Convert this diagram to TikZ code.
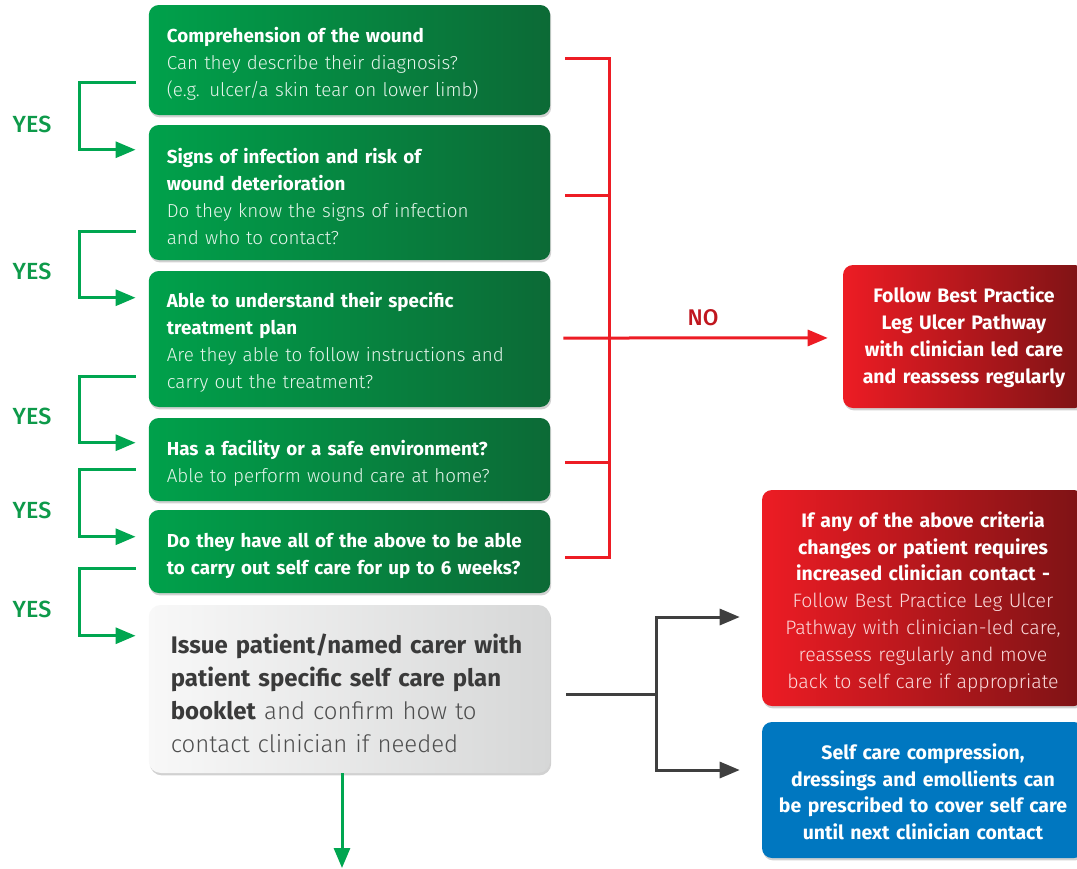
\documentclass[tikz,border=0pt]{standalone}
\usepackage{fontspec}
\setmainfont{Fira Sans}
\newfontfamily\lightfont{Fira Sans Light}
\newfontfamily\medfont{Fira Sans Medium}
\usetikzlibrary{shadows,arrows.meta}
\definecolor{gL}{HTML}{00A14B}
\definecolor{gD}{HTML}{0C6A36}
\definecolor{gLine}{HTML}{00A650}
\definecolor{yesc}{HTML}{0E9A4A}
\definecolor{rL}{HTML}{ED1C24}
\definecolor{rD}{HTML}{7D1315}
\definecolor{rLine}{HTML}{ED1C24}
\definecolor{noc}{HTML}{C0161E}
\definecolor{blu}{HTML}{0077C0}
\definecolor{gryL}{HTML}{F8F8F8}
\definecolor{gryD}{HTML}{D6D7D7}
\definecolor{darktxt}{HTML}{3A3A3A}
\definecolor{conn}{HTML}{3F3F3F}
\definecolor{pinktxt}{HTML}{FADADB}
\definecolor{paletxt}{HTML}{E6F5EB}
\tikzset{
  shad/.style={drop shadow={shadow xshift=0.8pt,shadow yshift=-1.8pt,opacity=0.18,fill=black}},
  push/.style={execute at begin node={\rule{0pt}{#1}}},
  gbox/.style={shad,rounded corners=7.5pt,left color=gL,right color=gD,text=white,align=left,
    text width=274pt,inner xsep=13.5pt,inner ysep=0pt,font=\fontsize{14.1}{20.25}\selectfont,
    push=17pt},
  greybox/.style={shad,rounded corners=9pt,left color=gryL,right color=gryD,text=darktxt,align=left,
    text width=268pt,inner xsep=16.5pt,inner ysep=0pt,font=\fontsize{18}{24.75}\selectfont,
    push=21.5pt},
  rbox/.style={shad,rounded corners=7.5pt,left color=rL,right color=rD,text=white,align=center,
    inner sep=0pt,font=\fontsize{14.6}{20.1}\selectfont},
  bbox/.style={shad,rounded corners=7.5pt,fill=blu,text=white,align=center,
    inner sep=0pt,font=\fontsize{14.6}{20.1}\selectfont},
  gline/.style={draw=gLine,line width=2.25pt,-{Triangle[length=15pt,width=12pt]}},
  rline/.style={draw=rLine,line width=2.25pt},
  cline/.style={draw=conn,line width=2.25pt},
  yes/.style={text=yesc,font=\medfont\fontsize{17.5}{20}\selectfont},
  tip/.style={-{Triangle[length=15pt,width=12pt]}}
}
\begin{document}
\begin{tikzpicture}[x=0.75pt,y=-0.75pt]
\useasboundingbox (0,0) rectangle (1077,868);
\fill[white] (0,0) rectangle (1077,868);
\clip (0,0) rectangle (1077,868);

% green question boxes
\node[gbox,minimum height=82.5pt] (b1) at (349.5,60)
  {\textbf{Comprehension of the wound}\\\lightfont\color{paletxt}Can they describe their diagnosis?\\(e.g. ulcer/a skin tear on lower limb)};
\node[gbox,minimum height=101.25pt] (b2) at (349.5,192.5)
  {\textbf{Signs of infection and risk of}\\\textbf{wound deterioration}\\\lightfont\color{paletxt}Do they know the signs of infection\\and who to contact?};
\node[gbox,minimum height=102pt] (b3) at (349.5,339)
  {\textbf{Able to understand their specific}\\\textbf{treatment plan}\\\lightfont\color{paletxt}Are they able to follow instructions and\\carry out the treatment?};
\node[gbox,minimum height=62.25pt] (b4) at (349.5,459.5)
  {\textbf{Has a facility or a safe environment?}\\\lightfont\color{paletxt}Able to perform wound care at home?};
\node[gbox,minimum height=62.25pt] (b5) at (349.5,551.5)
  {\textbf{Do they have all of the above to be able}\\\textbf{to carry out self care for up to 6 weeks?}};
\node[greybox,minimum height=126pt] (b6) at (349.5,689)
  {\textbf{Issue patient/named carer with}\\\textbf{patient specific self care plan}\\\textbf{booklet}\ {\lightfont\color{darktxt!90!white}and confirm how to}\\{\lightfont\color{darktxt!90!white}contact clinician if needed}};

% right boxes
\node[rbox,text width=170pt,push=13pt,minimum width=181.5pt,minimum height=107.25pt] (r1) at (964,336.5)
  {\textbf{Follow Best Practice}\\\textbf{Leg Ulcer Pathway}\\\textbf{with clinician led care}\\\textbf{and reassess regularly}};
\node[rbox,text width=230pt,push=17.5pt,minimum width=241.5pt,minimum height=162pt] (r2) at (923,598)
  {\textbf{If any of the above criteria}\\\textbf{changes or patient requires}\\\textbf{increased clinician contact -}\\
   {\lightfont\color{pinktxt}Follow Best Practice Leg Ulcer}\\{\lightfont\color{pinktxt}Pathway with clinician-led care,}\\
   {\lightfont\color{pinktxt}reassess regularly and move}\\{\lightfont\color{pinktxt}back to self care if appropriate}};
\node[bbox,text width=230pt,push=14.5pt,minimum width=241.5pt,minimum height=102pt] (bl) at (923,790)
  {\textbf{Self care compression,}\\\textbf{dressings and emollients can}\\\textbf{be prescribed to cover self care}\\\textbf{until next clinician contact}};

% YES labels
\node[yes] (y1) at (32,124) {YES};
\node[yes] (y2) at (32,271) {YES};
\node[yes] (y3) at (32,416) {YES};
\node[yes] (y4) at (32,510) {YES};
\node[yes] (y5) at (32,609) {YES};

% YES brackets
\coordinate (ybus) at (79,0);
\coordinate (s1) at ([xshift=-9.75pt,yshift=24.75pt]b1.south west);
\coordinate (e1) at ([xshift=-9.75pt,yshift=-18.75pt]b2.north west);
\coordinate (s2) at ([xshift=-9.75pt,yshift=21.75pt]b2.south west);
\coordinate (e2) at ([xshift=-9.75pt,yshift=-20.25pt]b3.north west);
\coordinate (s3) at ([xshift=-9.75pt,yshift=23.25pt]b3.south west);
\coordinate (e3) at ([xshift=-9.75pt,yshift=-18.75pt]b4.north west);
\coordinate (s4) at ([xshift=-9.75pt,yshift=24pt]b4.south west);
\coordinate (e4) at ([xshift=-9.75pt,yshift=-20.25pt]b5.north west);
\coordinate (s5) at ([xshift=-9.75pt,yshift=18.75pt]b5.south west);
\coordinate (e5) at ([xshift=-9.75pt,yshift=-23.25pt]b6.north west);
\foreach \i in {1,...,5}{
  \draw[gline] (s\i) -- (s\i -| ybus) |- (e\i);
}

% NO bracket
\coordinate (nobus) at (609,338);
\draw[rline] ([xshift=11.25pt,yshift=1.5pt]b1.east) -| ([yshift=-4.5pt]b5.east -| nobus) -- ([xshift=11.25pt,yshift=-4.5pt]b5.east);
\draw[rline] ([xshift=11.25pt,yshift=-1.9pt]b2.east) -- ([yshift=-1.9pt]b2.east -| nobus);
\draw[rline] ([xshift=11.25pt,yshift=-1.9pt]b4.east) -- ([yshift=-1.9pt]b4.east -| nobus);
\draw[rline,tip,shorten >=11.25pt] ([xshift=9.75pt,yshift=0.75pt]b3.east) -- ([yshift=-1.1pt]r1.west)
  node[pos=0.5,above=5pt,text=noc,font=\medfont\fontsize{17}{20}\selectfont] {NO};

% outcome connectors
\coordinate (obus) at (656,694);
\draw[cline] ([xshift=12pt,yshift=-3.75pt]b6.east) -- ([yshift=-3.75pt]b6.east -| obus);
\draw[cline,tip,shorten >=16.5pt] ([yshift=-3.75pt]b6.east -| obus) |- ([yshift=-14.25pt]r2.west);
\draw[cline,tip,shorten >=16.5pt] ([yshift=-3.75pt]b6.east -| obus) |- ([yshift=15pt]bl.west);

% down arrow
\coordinate (bottom) at (342,868);
\draw[gline] (b6.south -| bottom) -- (bottom);
\end{tikzpicture}
\end{document}
